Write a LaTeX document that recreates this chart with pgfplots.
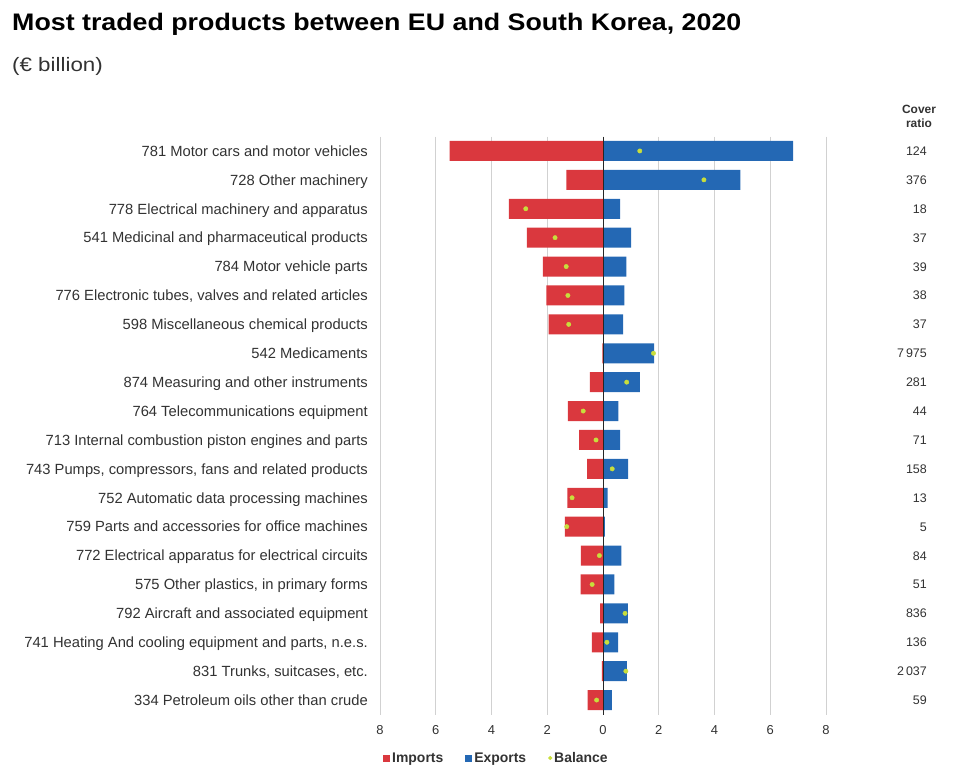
\documentclass[border=0pt]{standalone}
\usepackage{pgfplots}
\pgfplotsset{compat=1.18}
\usepackage{graphicx}
\usepackage{fontspec}
\setmainfont{Liberation Sans}
\definecolor{imp}{RGB}{218,56,62}
\definecolor{exp}{RGB}{36,104,180}
\definecolor{bal}{RGB}{200,222,60}
\definecolor{txt}{RGB}{50,50,50}
\begin{document}
\begin{tikzpicture}
\path (0bp,0bp) rectangle (955bp,767bp);
\node[anchor=base west, inner sep=0pt, font=\bfseries\fontsize{24}{28}\selectfont] at (12bp,736bp) {\scalebox{1.12}[1]{Most traded products between EU and South Korea, 2020}};
\node[anchor=base west, inner sep=0pt, text=txt, font=\fontsize{19.5}{22}\selectfont] at (12bp,695bp) {\scalebox{1.15}[1]{(€ billion)}};
\node[anchor=center, align=center, inner sep=0pt, text=txt, font=\bfseries\fontsize{12}{14}\selectfont] at (919bp,651bp) {Cover\\ratio};
\begin{axis}[at={(380bp,52.5bp)}, anchor=south west, scale only axis,
  width=446bp, height=578bp,
  xmin=-8, xmax=8, ymin=-0.5, ymax=19.5, y dir=reverse,
  xtick={-8,-6,...,8}, xticklabels={8,6,4,2,0,2,4,6,8},
  ytick={0,...,19},
  yticklabels={781 Motor cars and motor vehicles,728 Other machinery,778 Electrical machinery and apparatus,541 Medicinal and pharmaceutical products,784 Motor vehicle parts,{776 Electronic tubes, valves and related articles},598 Miscellaneous chemical products,542 Medicaments,874 Measuring and other instruments,764 Telecommunications equipment,713 Internal combustion piston engines and parts,{743 Pumps, compressors, fans and related products},752 Automatic data processing machines,759 Parts and accessories for office machines,772 Electrical apparatus for electrical circuits,{575 Other plastics, in primary forms},792 Aircraft and associated equipment,{741 Heating And cooling equipment and parts, n.e.s.},{831 Trunks, suitcases, etc.},334 Petroleum oils other than crude},
  major tick length=0pt,
  axis line style={draw=none},
  xmajorgrids, grid style={black!18, line width=0.8bp},
  yticklabel style={font=\fontsize{14.8}{16}\selectfont, text=txt, inner sep=0pt, anchor=east, text height=10.5bp, text depth=0bp, xshift=-12bp},
  xticklabel style={font=\fontsize{13}{15}\selectfont, text=txt, inner sep=0pt, yshift=-11bp},
  /pgf/number format/assume math mode=true,
  clip=false,
  legend columns=3,
  legend style={draw=none, fill=none, at={(0.0,-0.0753)}, anchor=west,
    font=\bfseries\fontsize{14}{16}\selectfont, text=txt,
    /tikz/every even column/.append style={column sep=20bp}},
]
\addplot[xbar, bar width=20bp, bar shift=0pt, fill=imp, draw=none,
  legend image code/.code={\fill[imp] (0bp,-3.5bp) rectangle (7bp,3.5bp);}]
coordinates {(-5.50,0) (-1.31,1) (-3.38,2) (-2.73,3) (-2.16,4) (-2.03,5) (-1.95,6) (-0.02,7) (-0.47,8) (-1.26,9) (-0.86,10) (-0.57,11) (-1.28,12) (-1.37,13) (-0.79,14) (-0.80,15) (-0.10,16) (-0.40,17) (-0.04,18) (-0.55,19)};
\addlegendentry{Imports}
\addplot[xbar, bar width=20bp, bar shift=0pt, fill=exp, draw=none,
  legend image code/.code={\fill[exp] (0bp,-3.5bp) rectangle (7bp,3.5bp);}]
coordinates {(6.82,0) (4.93,1) (0.61,2) (1.01,3) (0.84,4) (0.77,5) (0.72,6) (1.83,7) (1.32,8) (0.55,9) (0.61,10) (0.90,11) (0.17,12) (0.07,13) (0.66,14) (0.41,15) (0.89,16) (0.54,17) (0.86,18) (0.32,19)};
\addlegendentry{Exports}
\addplot[only marks, mark=*, mark size=2.2bp, mark options={fill=bal, draw=bal},
  legend image code/.code={\fill[bal] (5bp,0bp) circle (1.8bp);}]
coordinates {(1.32,0) (3.62,1) (-2.77,2) (-1.72,3) (-1.32,4) (-1.26,5) (-1.23,6) (1.81,7) (0.85,8) (-0.71,9) (-0.25,10) (0.33,11) (-1.11,12) (-1.30,13) (-0.13,14) (-0.39,15) (0.79,16) (0.14,17) (0.82,18) (-0.23,19)};
\addlegendentry{Balance}
\draw[black!85, line width=0.9bp] (axis cs:0,-0.5) -- (axis cs:0,19.5);
\begin{scope}[every node/.style={anchor=east, inner sep=0pt, text=txt, text height=9bp, text depth=0bp, font=\fontsize{12.5}{14}\selectfont}]
\node at ([xshift=101bp]axis cs:8,0) {124};
\node at ([xshift=101bp]axis cs:8,1) {376};
\node at ([xshift=101bp]axis cs:8,2) {18};
\node at ([xshift=101bp]axis cs:8,3) {37};
\node at ([xshift=101bp]axis cs:8,4) {39};
\node at ([xshift=101bp]axis cs:8,5) {38};
\node at ([xshift=101bp]axis cs:8,6) {37};
\node at ([xshift=101bp]axis cs:8,7) {7\,975};
\node at ([xshift=101bp]axis cs:8,8) {281};
\node at ([xshift=101bp]axis cs:8,9) {44};
\node at ([xshift=101bp]axis cs:8,10) {71};
\node at ([xshift=101bp]axis cs:8,11) {158};
\node at ([xshift=101bp]axis cs:8,12) {13};
\node at ([xshift=101bp]axis cs:8,13) {5};
\node at ([xshift=101bp]axis cs:8,14) {84};
\node at ([xshift=101bp]axis cs:8,15) {51};
\node at ([xshift=101bp]axis cs:8,16) {836};
\node at ([xshift=101bp]axis cs:8,17) {136};
\node at ([xshift=101bp]axis cs:8,18) {2\,037};
\node at ([xshift=101bp]axis cs:8,19) {59};
\end{scope}
\end{axis}
\end{tikzpicture}
\end{document}
